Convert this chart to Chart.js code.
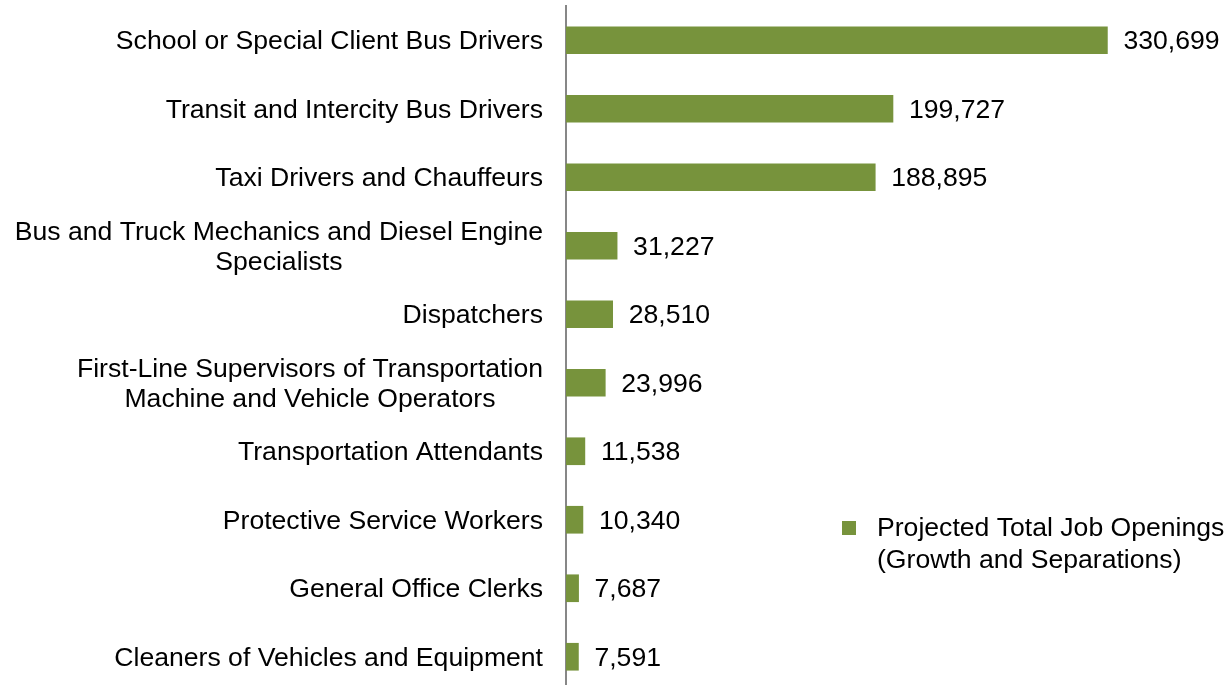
<!DOCTYPE html>
<html>
<head>
<meta charset="utf-8">
<script src="https://cdn.jsdelivr.net/npm/chart.js@4"></script>
<style>
  html, body { margin: 0; padding: 0; background: #fff; overflow: hidden; }
</style>
</head>
<body>
<canvas id="myChart" width="1229" height="691"></canvas>
<script>
// occupations, top to bottom
const occupations = [
  ['School or Special Client Bus Drivers'],
  ['Transit and Intercity Bus Drivers'],
  ['Taxi Drivers and Chauffeurs'],
  ['Bus and Truck Mechanics and Diesel Engine', 'Specialists'],
  ['Dispatchers'],
  ['First-Line Supervisors of Transportation', 'Machine and Vehicle Operators'],
  ['Transportation Attendants'],
  ['Protective Service Workers'],
  ['General Office Clerks'],
  ['Cleaners of Vehicles and Equipment']
];
const jobOpenings = [330699, 199727, 188895, 31227, 28510, 23996, 11538, 10340, 7687, 7591];
const seriesName = ['Projected Total Job Openings', '(Growth and Separations)'];

const green = '#77933C';
const font = '26.6px "Liberation Sans", Arial, sans-serif';

// category names, each block right aligned with its lines centred on each other
const categoryLabels = {
  id: 'categoryLabels',
  afterDraw(chart) {
    const ctx = chart.ctx;
    const y = chart.scales.y;
    const right = chart.chartArea.left - 23;
    ctx.save();
    ctx.font = font;
    ctx.fillStyle = '#000';
    ctx.textAlign = 'center';
    ctx.textBaseline = 'middle';
    occupations.forEach((lines, i) => {
      const maxW = Math.max(...lines.map(l => ctx.measureText(l).width));
      const cx = right - maxW / 2;
      const cy = y.getPixelForValue(i) + 1.5;
      const lh = 30;
      lines.forEach((l, k) => {
        ctx.fillText(l, cx, cy + (k - (lines.length - 1) / 2) * lh);
      });
    });
    ctx.restore();
  }
};

// value labels after each bar
const valueLabels = {
  id: 'valueLabels',
  afterDatasetsDraw(chart) {
    const ctx = chart.ctx;
    const meta = chart.getDatasetMeta(0);
    ctx.save();
    ctx.font = font;
    ctx.fillStyle = '#000';
    ctx.textAlign = 'left';
    ctx.textBaseline = 'middle';
    meta.data.forEach((bar, i) => {
      ctx.fillText(jobOpenings[i].toLocaleString('en-US'), bar.x + 16, bar.y + 1.5);
    });
    ctx.restore();
  }
};

// legend box on the right, two lines of text
const sideLegend = {
  id: 'sideLegend',
  afterDraw(chart) {
    const ctx = chart.ctx;
    ctx.save();
    ctx.fillStyle = green;
    ctx.fillRect(842, 521, 14, 14);
    ctx.font = font;
    ctx.fillStyle = '#000';
    ctx.textAlign = 'left';
    ctx.textBaseline = 'middle';
    seriesName.forEach((t, k) => ctx.fillText(t, 877, 529 + k * 32));
    ctx.restore();
  }
};

const myChart = document.getElementById('myChart');

let barChart = new Chart(myChart, {
  type: 'bar',
  data: {
    labels: occupations,
    datasets: [{
      label: seriesName.join(' '),
      data: jobOpenings,
      backgroundColor: green,
      barThickness: 27
    }]
  },
  options: {
    indexAxis: 'y',
    responsive: false,
    animation: false,
    layout: { padding: { top: 6, right: 90, bottom: 0, left: 0 } },
    plugins: {
      legend: { display: false },
      tooltip: { enabled: false }
    },
    scales: {
      x: {
        display: false,
        min: 0,
        max: 350000
      },
      y: {
        ticks: { display: false },
        grid: { display: false, drawTicks: false },
        border: { display: true, color: '#878787', width: 2 },
        afterFit(scale) { scale.width = 566; }
      }
    }
  },
  plugins: [categoryLabels, valueLabels, sideLegend]
});
</script>
</body>
</html>
